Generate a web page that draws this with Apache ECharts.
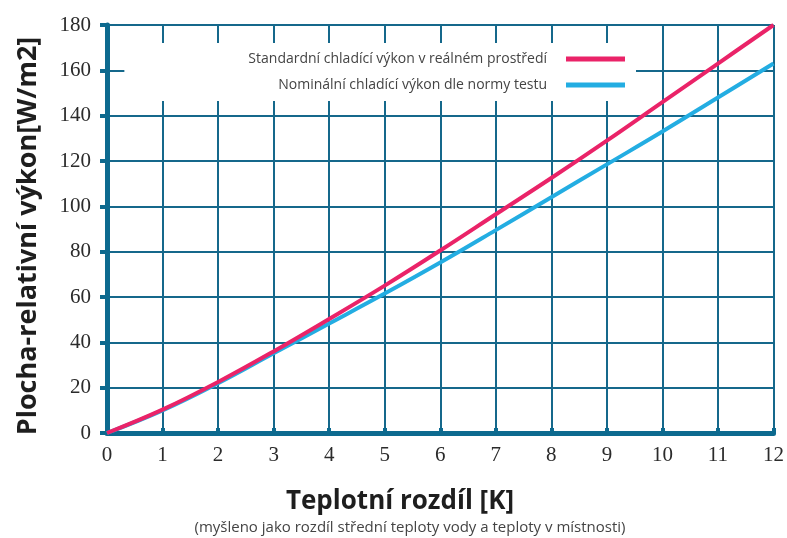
<!DOCTYPE html>
<html>
<head>
<meta charset="utf-8">
<script src="https://cdn.jsdelivr.net/npm/echarts@6/dist/echarts.min.js"></script>
<style>
  html, body { margin: 0; padding: 0; background: #fff; }
  #chart { width: 787px; height: 538px; }
</style>
</head>
<body>
<div id="chart"></div>
<script>
// teplotni rozdil [K]
var deltaT = [0, 1, 2, 3, 4, 5, 6, 7, 8, 9, 10, 11, 12];
// standardni chladici vykon v realnem prostredi
var realValues = [0, 10.3, 22.5, 36, 50.3, 65, 80.5, 96.5, 112.5, 129, 146, 163, 180];
// nominalni chladici vykon dle normy testu
var nominalValues = [0, 10, 22, 35.2, 48.3, 61.5, 75.2, 89.5, 104, 118.5, 133, 148, 163];
var seriesNames = ["Standardní chladící výkon v reálném prostředí", "Nominální chladící výkon dle normy testu"];
var yTicks = [0, 180, 20];
var xTicks = [0, 12, 1];

var gridColor = "#15688b";
var axisColor = "#0d6a8f";

var myChart = echarts.init(document.getElementById("chart"));

function pairs(xs, ys) {
    return xs.map(function (x, i) { return [x, ys[i]]; });
}

var option = {
    animation: false,
    grid: {
        left: 107,
        right: 12,
        top: 25,
        bottom: 105
    },
    legend: {
        data: seriesNames,
        orient: "vertical",
        align: "right",
        right: 151,
        top: 43,
        backgroundColor: "#fff",
        padding: [9, 11, 9, 124],
        icon: "rect",
        itemWidth: 59,
        itemHeight: 5,
        itemGap: 12,
        textStyle: {
            fontFamily: "Open Sans",
            fontSize: 14,
            color: "#444",
            lineHeight: 14,
            padding: [0, 14, 0, 0]
        }
    },
    xAxis: {
        type: "value",
        min: xTicks[0],
        max: xTicks[1],
        interval: xTicks[2],
        axisLine: { lineStyle: { color: axisColor, width: 5 } },
        axisTick: { show: true, inside: true, length: 5, lineStyle: { color: axisColor, width: 4 } },
        axisLabel: {
            margin: 12,
            fontFamily: "Liberation Sans Narrow",
            fontSize: 21,
            color: "#2b2b2b"
        },
        splitLine: { show: true, lineStyle: { color: gridColor, width: 2 } }
    },
    yAxis: {
        type: "value",
        min: yTicks[0],
        max: yTicks[1],
        interval: yTicks[2],
        name: "Plocha-relativní výkon[W/m2]",
        nameLocation: "middle",
        nameGap: 65,
        nameTextStyle: {
            fontFamily: "Open Sans",
            fontWeight: "bold",
            fontSize: 27,
            color: "#1e1e1e",
            padding: [0, 14, 0, 0]
        },
        axisLine: { show: true, lineStyle: { color: axisColor, width: 5 } },
        axisTick: { show: true, length: 7, lineStyle: { color: axisColor, width: 4 } },
        axisLabel: {
            margin: 16,
            fontFamily: "Liberation Sans Narrow",
            fontSize: 21,
            color: "#2b2b2b"
        },
        splitLine: { show: true, lineStyle: { color: gridColor, width: 2 } }
    },
    graphic: [
        {
            type: "text",
            style: {
                x: 400,
                y: 502,
                text: "Teplotní rozdíl [K]",
                fontFamily: "Open Sans",
                fontWeight: "bold",
                fontSize: 26,
                fill: "#1e1e1e",
                align: "center",
                verticalAlign: "middle"
            }
        },
        {
            type: "text",
            style: {
                x: 410,
                y: 528,
                text: "(myšleno jako rozdíl střední teploty vody a teploty v místnosti)",
                fontFamily: "Open Sans",
                fontSize: 15,
                fill: "#444",
                align: "center",
                verticalAlign: "middle"
            }
        }
    ],
    series: [
        {
            name: seriesNames[0],
            type: "line",
            z: 3,
            data: pairs(deltaT, realValues),
            smooth: 0.4,
            showSymbol: false,
            lineStyle: { color: "#ea2368", width: 4 },
            itemStyle: { color: "#ea2368" }
        },
        {
            name: seriesNames[1],
            type: "line",
            z: 2,
            data: pairs(deltaT, nominalValues),
            smooth: 0.4,
            showSymbol: false,
            lineStyle: { color: "#23ade2", width: 4 },
            itemStyle: { color: "#23ade2" }
        }
    ]
};

myChart.setOption(option);
window.addEventListener("resize", function () {
    myChart.resize();
});
</script>
</body>
</html>
